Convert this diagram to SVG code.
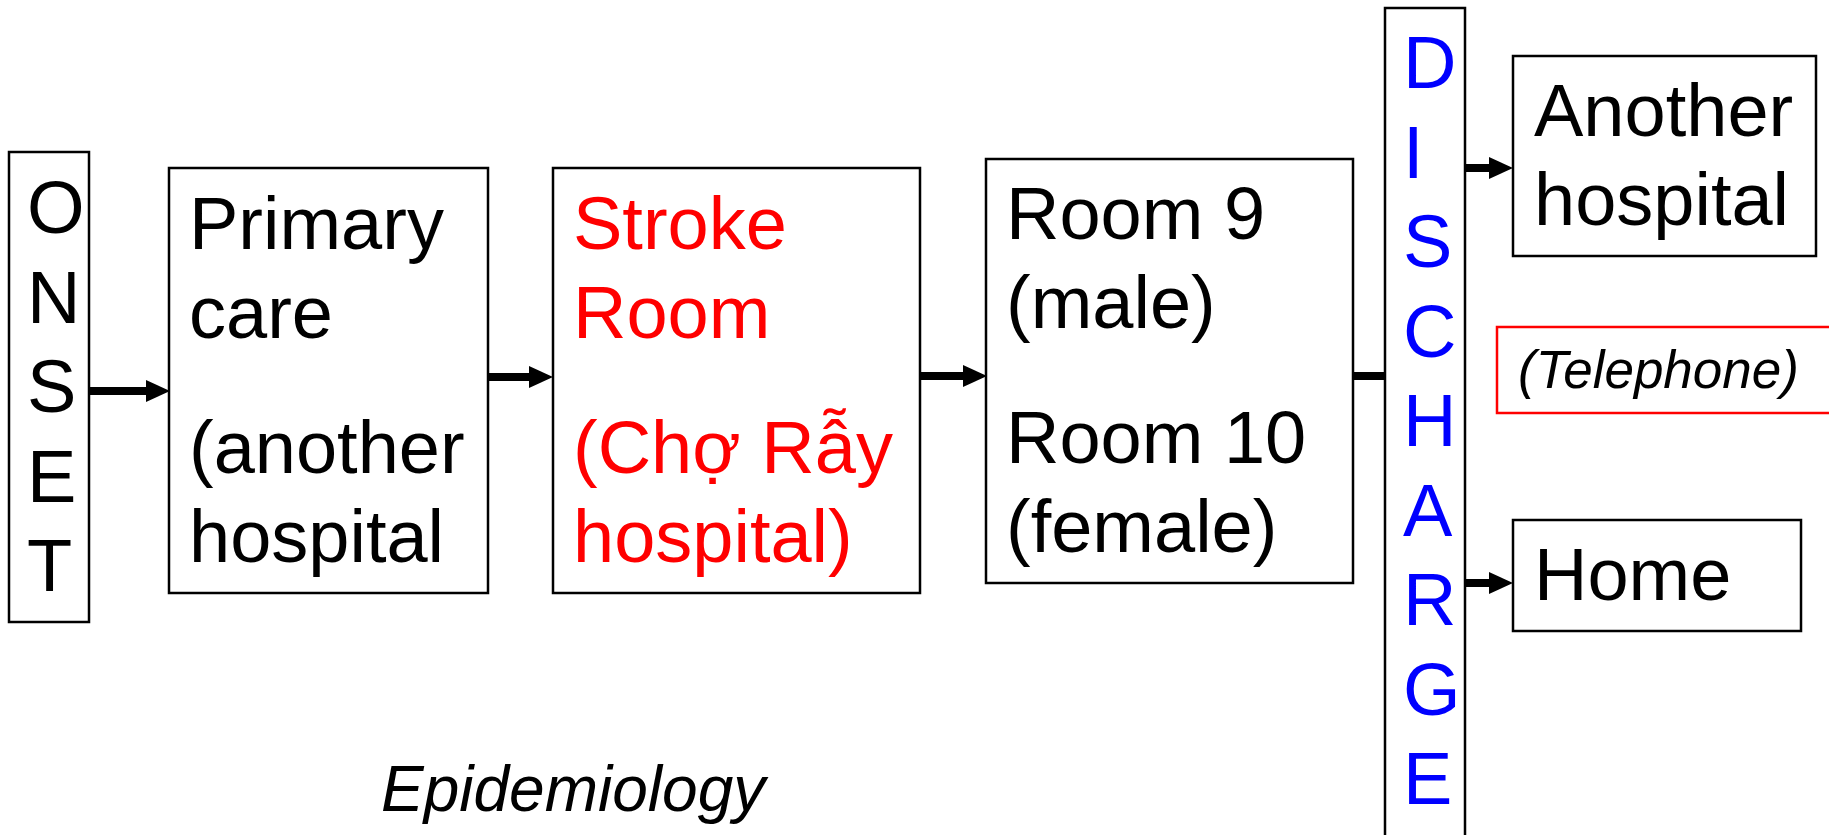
<svg xmlns="http://www.w3.org/2000/svg" width="1829" height="835" viewBox="0 0 1829 835">
  <style>
    .box { fill: #ffffff; stroke: #000000; stroke-width: 2.5; }
    .redbox { fill: #ffffff; stroke: #ff0000; stroke-width: 2.5; }
    .t { font-family: "Liberation Sans", Arial, sans-serif; font-size: 74px; fill: #000000; }
    .red { fill: #ff0000; }
    .blue { fill: #0000ff; }
    .it { font-family: "Liberation Sans", Arial, sans-serif; font-style: italic; fill: #000000; }
    .conn { stroke: #000000; stroke-width: 8; fill: none; }
  </style>
  <defs>
    <marker id="ah" markerUnits="userSpaceOnUse" markerWidth="24" markerHeight="22" refX="0" refY="11" orient="auto">
      <path d="M0,0 L24,11 L0,22 z" fill="#000000"/>
    </marker>
  </defs>
  <rect width="1829" height="835" fill="#ffffff"/>

  <g id="connectors">
    <line class="conn" x1="89" y1="391" x2="146" y2="391" marker-end="url(#ah)"/>
    <line class="conn" x1="488" y1="377" x2="529" y2="377" marker-end="url(#ah)"/>
    <line class="conn" x1="920" y1="376" x2="963" y2="376" marker-end="url(#ah)"/>
    <line class="conn" x1="1353" y1="376" x2="1385" y2="376"/>
    <line class="conn" x1="1465" y1="168" x2="1489" y2="168" marker-end="url(#ah)"/>
    <line class="conn" x1="1465" y1="583" x2="1489" y2="583" marker-end="url(#ah)"/>
  </g>

  <g id="onset">
    <rect class="box" x="9" y="152" width="80" height="470"/>
    <text class="t" x="27" y="233">O</text>
    <text class="t" x="27" y="322.5">N</text>
    <text class="t" x="27" y="412">S</text>
    <text class="t" x="27" y="501.5">E</text>
    <text class="t" x="27" y="591">T</text>
  </g>

  <g id="primary-care">
    <rect class="box" x="169" y="168" width="319" height="425"/>
    <text class="t" x="189" y="249">Primary</text>
    <text class="t" x="189" y="338">care</text>
    <text class="t" x="189" y="473">(another</text>
    <text class="t" x="189" y="562">hospital</text>
  </g>

  <g id="stroke-room">
    <rect class="box" x="553" y="168" width="367" height="425"/>
    <text class="t red" x="573" y="249">Stroke</text>
    <text class="t red" x="573" y="338">Room</text>
    <text class="t red" x="573" y="473">(Chợ Rẫy</text>
    <text class="t red" x="573" y="562">hospital)</text>
  </g>

  <g id="rooms">
    <rect class="box" x="986" y="159" width="367" height="424"/>
    <text class="t" x="1006" y="239">Room 9</text>
    <text class="t" x="1006" y="328">(male)</text>
    <text class="t" x="1006" y="463">Room 10</text>
    <text class="t" x="1006" y="552">(female)</text>
  </g>

  <g id="discharge">
    <rect class="box" x="1385" y="8" width="80" height="850"/>
    <text class="t blue" x="1403" y="88">D</text>
    <text class="t blue" x="1403" y="177.5">I</text>
    <text class="t blue" x="1403" y="267">S</text>
    <text class="t blue" x="1403" y="356.5">C</text>
    <text class="t blue" x="1403" y="446">H</text>
    <text class="t blue" x="1403" y="535.5">A</text>
    <text class="t blue" x="1403" y="625">R</text>
    <text class="t blue" x="1403" y="714.5">G</text>
    <text class="t blue" x="1403" y="804">E</text>
  </g>

  <g id="another-hospital">
    <rect class="box" x="1513" y="56" width="303" height="200"/>
    <text class="t" x="1534" y="136">Another</text>
    <text class="t" x="1534" y="225">hospital</text>
  </g>

  <g id="telephone">
    <rect class="redbox" x="1497" y="327" width="400" height="86"/>
    <text class="it" x="1518" y="388" font-size="53">(Telephone)</text>
  </g>

  <g id="home">
    <rect class="box" x="1513" y="520" width="288" height="111"/>
    <text class="t" x="1534" y="600">Home</text>
  </g>

  <g id="epidemiology">
    <text class="it" x="381" y="811" font-size="64">Epidemiology</text>
  </g>
</svg>
